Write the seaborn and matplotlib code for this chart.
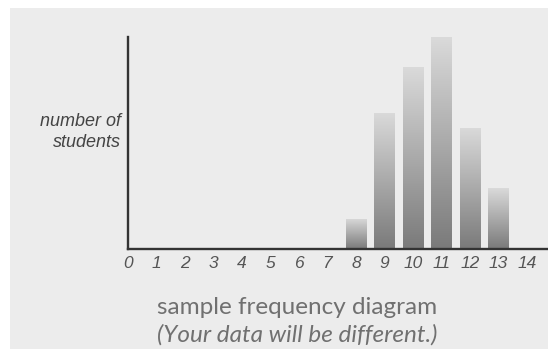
import numpy as np
import pandas as pd
import matplotlib
matplotlib.use("Agg")
import matplotlib.pyplot as plt
import seaborn as sns
from matplotlib.colors import LinearSegmentedColormap
from matplotlib.patches import Rectangle

# Sample data: number of students per score
scores = list(range(15))
students = [0, 0, 0, 0, 0, 0, 0, 0, 2, 9, 12, 14, 8, 4, 0]

df = pd.DataFrame({"score": scores, "students": students})

sns.set_style("white")
plt.rcParams["font.family"] = ["Liberation Sans", "DejaVu Sans"]

fig = plt.figure(figsize=(5.48, 3.55), dpi=100)
fig.patch.set_facecolor("white")

# light gray panel behind everything
panel = Rectangle((10 / 548, 6 / 355), 1 - 10 / 548, 341 / 355,
                  transform=fig.transFigure, facecolor="#ececec",
                  edgecolor="none", zorder=-10)
fig.patches.append(panel)

ax = fig.add_axes([128 / 548, 106 / 355, 420 / 548, 212 / 355])
ax.set_facecolor("none")
ax.set_zorder(1)

sns.barplot(data=df, x="score", y="students", order=scores, color="#999999",
            width=0.72, ax=ax)

# vertical gradient inside each bar
grad_cmap = LinearSegmentedColormap.from_list("bar", ["#7a7a7a", "#dadada"])
grad = np.linspace(0, 1, 256).reshape(-1, 1)
for p in ax.patches:
    h = p.get_height()
    if h <= 0:
        continue
    x0 = p.get_x()
    w = p.get_width()
    im = ax.imshow(grad, cmap=grad_cmap, origin="lower", aspect="auto",
                   extent=[x0, x0 + w, 0, h], zorder=2)
    im.set_clip_path(p)
    p.set_facecolor("none")
    p.set_edgecolor("none")

ax.set_xlim(0, 14.74)
ax.set_ylim(0, 14)

sns.despine(ax=ax)
for side in ["left", "bottom"]:
    ax.spines[side].set_color("#333333")
    ax.spines[side].set_linewidth(1.7)
ax.spines["bottom"].set_zorder(3)

ax.set_yticks([])
ax.set_xticks(scores)
ax.set_xticklabels([str(s) for s in scores], fontsize=12.5, style="italic",
                   color="#555555")
ax.tick_params(axis="x", length=0, pad=5)
ax.set_xlabel("")
ax.set_ylabel("")

fig.text(121 / 548, 1 - 132 / 355, "number of\nstudents", ha="right",
         va="center", fontsize=13, style="italic", color="#444444",
         linespacing=1.3)

fig.text(297 / 548, 1 - 307 / 355, "sample frequency diagram", ha="center",
         va="center", fontsize=17.5, color="#707070",
         family=["Lato", "DejaVu Sans"])
fig.text(297 / 548, 1 - 335 / 355, "(Your data will be different.)", ha="center",
         va="center", fontsize=17.5, style="italic", color="#707070",
         family=["Lato", "DejaVu Sans"])

fig.savefig("out.png", dpi=100)
